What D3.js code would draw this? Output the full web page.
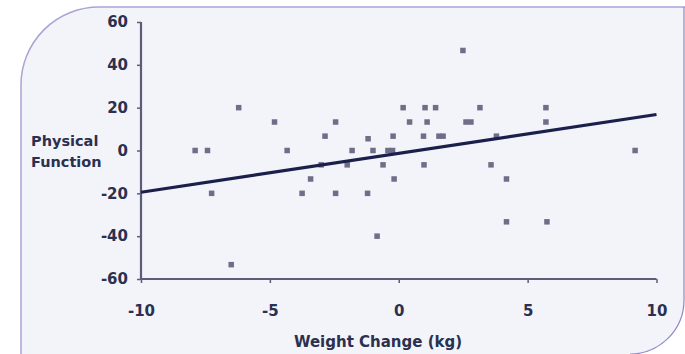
<!DOCTYPE html>
<html>
<head>
<meta charset="utf-8">
<script src="https://cdn.jsdelivr.net/npm/d3@7"></script>
<style>
  body { margin: 0; background: #fff; }
  svg { display: block; font-family: "DejaVu Sans", Verdana, sans-serif; }
</style>
</head>
<body>
<div id="chart"></div>
<script>
var width = 685,
    height = 354;

// weight change (kg) and physical function change
var weightChange = [-7.9, -7.42, -7.26, -6.21, -6.5, -4.82, -4.33, -3.75, -3.42, -3.01,
  -2.86, -2.45, -2.45, -2.0, -1.81, -1.19, -1.21, -1.0, -0.84, -0.61,
  -0.42, -0.24, -0.22, -0.18, 0.17, 0.42, 0.96, 0.98, 1.02, 1.1,
  1.43, 1.56, 1.72, 2.49, 2.61, 2.8, 3.15, 3.58, 3.79, 4.18,
  4.18, 5.71, 5.71, 5.75, 9.17];
var physFunction = [0, 0, -20, 20, -53.3, 13.3, 0, -20, -13.3, -6.7,
  6.7, 13.3, -20, -6.7, 0, 5.5, -20, 0, -40, -6.7,
  0, 0, 6.7, -13.3, 20, 13.3, 6.7, -6.7, 20, 13.3,
  20, 6.7, 6.7, 46.7, 13.3, 13.3, 20, -6.7, 6.7, -13.3,
  -33.3, 20, 13.3, -33.3, 0];

// fitted line end points
var fitX = [-10, 10],
    fitY = [-19.5, 16.8];

var xTicks = [-10, -5, 0, 5, 10],
    yTicks = [-60, -40, -20, 0, 20, 40, 60];

var x = d3.scaleLinear().domain([-10, 10]).range([141, 656.5]);
var y = d3.scaleLinear().domain([-60, 60]).range([279, 22]);

var svg = d3.select("#chart").append("svg")
    .attr("width", width)
    .attr("height", height);

// panel with rounded corners
svg.append("path")
    .attr("d", "M21,360V85A78,78 0 0 1 99,7H684V300A54,54 0 0 1 630,354V360Z")
    .attr("fill", "#f2f4f9")
    .attr("stroke", "none");
svg.append("path")
    .attr("d", "M21,360V85A78,78 0 0 1 99,7H685")
    .attr("fill", "none")
    .attr("stroke", "#aaa3d6")
    .attr("stroke-width", 1.5);
svg.append("path")
    .attr("d", "M684,7V300A54,54 0 0 1 630,354")
    .attr("fill", "none")
    .attr("stroke", "#8f86c9")
    .attr("stroke-width", 1.2);

var axisColor = "#5d5d7a",
    textColor = "#2b3050";

var yAxis = svg.append("g")
    .attr("transform", "translate(" + x(-10) + ",0)")
    .call(d3.axisLeft(y).tickValues(yTicks).tickSize(4).tickPadding(9)
      .tickFormat(function(d) { return String(d); }));

var xAxis = svg.append("g")
    .attr("transform", "translate(0," + y(-60) + ")")
    .call(d3.axisBottom(x).tickValues(xTicks).tickSize(4).tickPadding(22)
      .tickFormat(function(d) { return String(d); }));

[xAxis, yAxis].forEach(function(g) {
  g.select(".domain").attr("stroke", axisColor).attr("stroke-width", 2.2);
  g.selectAll(".tick line").attr("stroke", axisColor).attr("stroke-width", 1.5);
  g.selectAll(".tick text")
      .attr("fill", textColor)
      .style("font-size", "15px")
      .style("font-weight", "bold")
      .style("font-family", "'DejaVu Sans', Verdana, sans-serif");
});
xAxis.select(".domain").attr("d", "M" + x(-10) + ",0H" + x(10));
yAxis.select(".domain").attr("d", "M0," + y(60) + "V" + y(-60));

// points
svg.append("g").selectAll("rect")
    .data(weightChange)
  .enter().append("rect")
    .attr("x", function(d) { return x(d) - 2.75; })
    .attr("y", function(d, i) { return y(physFunction[i]) - 2.75; })
    .attr("width", 5.5)
    .attr("height", 5.5)
    .attr("fill", "#6e6e88");

// regression line
svg.append("path")
    .datum(d3.zip(fitX, fitY))
    .attr("d", d3.line().x(function(d) { return x(d[0]); }).y(function(d) { return y(d[1]); }))
    .attr("stroke", "#1b1f4b")
    .attr("stroke-width", 3.2)
    .attr("fill", "none");

// axis titles
var yTitle = svg.append("text")
    .attr("fill", textColor)
    .style("font-size", "14.5px")
    .style("font-weight", "bold");
yTitle.append("tspan").attr("x", 31).attr("y", 146).text("Physical");
yTitle.append("tspan").attr("x", 31).attr("y", 167).text("Function");

svg.append("text")
    .attr("x", 378)
    .attr("y", 347)
    .attr("text-anchor", "middle")
    .attr("fill", textColor)
    .style("font-size", "15px")
    .style("font-weight", "bold")
    .text("Weight Change (kg)");
</script>
</body>
</html>
